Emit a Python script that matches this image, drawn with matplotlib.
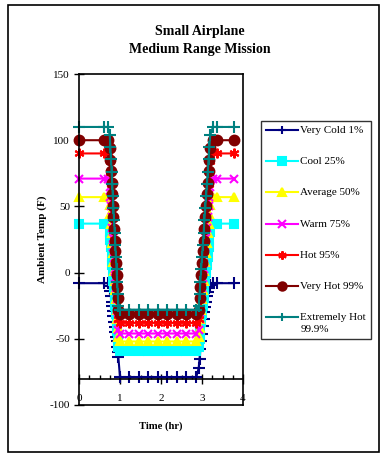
import matplotlib
matplotlib.use("Agg")

import matplotlib.pyplot as plt
from matplotlib.patches import Rectangle
from matplotlib.ticker import MultipleLocator

plt.rcParams['font.family'] = ['Liberation Serif', 'DejaVu Serif']
plt.rcParams['axes.unicode_minus'] = False

# time (hr) of each point of the mission profile, shared by all series
time_hr = [0.0, 0.6, 0.7,
           0.75, 0.765, 0.78, 0.795, 0.81, 0.825, 0.84, 0.855, 0.87, 0.885,
           0.90, 0.915, 0.93, 0.945, 0.96,
           1.0, 1.23, 1.46, 1.69, 1.92, 2.15, 2.38, 2.61, 2.86,
           2.92, 2.94, 2.96, 2.98, 3.0, 3.02, 3.04, 3.06, 3.08, 3.10,
           3.12, 3.14, 3.16, 3.18, 3.20,
           3.27, 3.36, 3.78]

very_cold = [-8, -8, -8,
             -10, -14, -18, -22, -25, -29, -33, -37, -41, -45, -49, -52, -56, -60, -64,
             -79, -79, -79, -79, -79, -79, -79, -79, -79,
             -72, -65, -58, -52, -46, -40, -35, -30, -26, -22, -18, -15, -12, -10, -9,
             -8, -8, -8]
cool = [37, 37, 37,
        31, 25, 19, 12, 6, 0, -6, -12, -19, -25, -31, -37, -44, -50, -56,
        -59, -59, -59, -59, -59, -59, -59, -59, -59,
        -56, -50, -44, -37, -31, -25, -19, -12, -6, 0, 6, 12, 19, 25, 31,
        37, 37, 37]
average = [57, 57, 57,
           51, 44, 37, 30, 22, 15, 8, 1, -6, -13, -20, -28, -35, -42, -49,
           -52, -52, -52, -52, -52, -52, -52, -52, -52,
           -49, -42, -35, -28, -20, -13, -6, 1, 8, 15, 22, 30, 37, 44, 51,
           57, 57, 57]
warm = [71, 71, 71,
        65, 57, 50, 42, 34, 26, 19, 11, 3, -4, -12, -20, -28, -35, -43,
        -46, -46, -46, -46, -46, -46, -46, -46, -46,
        -43, -35, -28, -20, -12, -4, 3, 11, 19, 26, 34, 42, 50, 57, 65,
        71, 71, 71]
hot = [90, 90, 90,
       84, 76, 67, 59, 50, 42, 33, 25, 16, 8, -1, -10, -18, -27, -35,
       -38, -38, -38, -38, -38, -38, -38, -38, -38,
       -35, -27, -18, -10, -1, 8, 16, 25, 33, 42, 50, 59, 67, 76, 84,
       90, 90, 90]
very_hot = [100, 100, 100,
            94, 85, 77, 68, 59, 50, 42, 33, 24, 16, 7, -2, -11, -19, -28,
            -31, -31, -31, -31, -31, -31, -31, -31, -31,
            -28, -19, -11, -2, 7, 16, 24, 33, 42, 50, 59, 68, 77, 85, 94,
            100, 100, 100]
extremely_hot = [110, 110, 110,
                 104, 95, 86, 76, 67, 58, 49, 40, 30, 21, 12, 3, -7, -16, -25,
                 -28, -28, -28, -28, -28, -28, -28, -28, -28,
                 -25, -16, -7, 3, 12, 21, 30, 40, 49, 58, 67, 76, 86, 95, 104,
                 110, 110, 110]

labels = ['Very Cold 1%', 'Cool 25%', 'Average 50%', 'Warm 75%',
          'Hot 95%', 'Very Hot 99%', 'Extremely Hot\n99.9%']
series = [very_cold, cool, average, warm, hot, very_hot, extremely_hot]
colors = ['#000080', '#00FFFF', '#FFFF00', '#FF00FF', '#FF0000', '#800000', '#008080']
markers = ['+', 's', '^', 'x', (6, 2, 0), 'o', '+']
msizes = [8, 5.5, 6, 6, 7, 7, 8]

W, H = 381, 454
fig = plt.figure(figsize=(W / 100, H / 100), dpi=100)
ax = fig.add_axes([79 / W, 1 - 405 / H, (243 - 79) / W, (405 - 74) / H])

for vals, lab, c, m, ms in zip(series, labels, colors, markers, msizes):
    ax.plot(time_hr, vals, color=c, lw=1.5, marker=m, ms=ms, mew=1.5,
            mec=c, mfc=c, label=lab, clip_on=False)

ax.set_xlim(0, 4)
ax.set_ylim(-100, 150)
ax.spines['bottom'].set_position(('data', -80))
ax.axhline(-100, color='k', lw=1.2, clip_on=False)
for s in ax.spines.values():
    s.set_linewidth(1.2)

ax.xaxis.set_major_locator(MultipleLocator(1))
ax.xaxis.set_minor_locator(MultipleLocator(0.25))
ax.yaxis.set_major_locator(MultipleLocator(50))
ax.tick_params(axis='x', which='major', direction='inout', length=7, width=1,
               labelsize=8, pad=8)
ax.tick_params(axis='x', which='minor', direction='in', length=3, width=1)
ax.tick_params(axis='y', which='major', direction='inout', length=7, width=1,
               labelsize=8, pad=3)

ax.set_xlabel('Time (hr)', fontsize=7.7, fontweight='bold', labelpad=13)
ax.set_ylabel('Ambient Temp (F)', fontsize=8, fontweight='bold', labelpad=2)

fig.text(0.525, 1 - 32 / H, 'Small Airplane', ha='center', va='center',
         fontsize=10, fontweight='bold')
fig.text(0.525, 1 - 50 / H, 'Medium Range Mission', ha='center', va='center',
         fontsize=10, fontweight='bold')

leg = fig.legend(loc='upper left', bbox_to_anchor=(261 / W, 1 - 121 / H),
                 fontsize=8, numpoints=1, frameon=True, fancybox=False,
                 edgecolor='k', labelspacing=2.0, handlelength=2.9,
                 handletextpad=0.2, borderpad=0.45, borderaxespad=0)
leg.get_frame().set_linewidth(1.0)
for lh in leg.get_lines():
    lh.set_markersize(6)
leg.get_texts()[-1].set_linespacing(1.4)
# keep the marker level with the first line of a two-line label
for col in leg._legend_handle_box.get_children():
    for item in col.get_children():
        item.align = 'top'

fig.patches.append(Rectangle((8 / W, 1 - 452 / H), (379 - 8) / W, (452 - 5) / H,
                             transform=fig.transFigure, fill=False,
                             edgecolor='k', lw=1.2))

fig.savefig('out.png', dpi=100)
